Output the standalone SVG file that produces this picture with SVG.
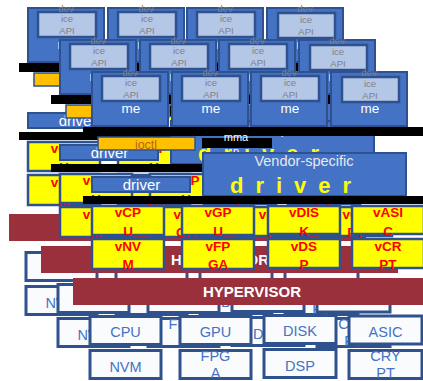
<svg xmlns="http://www.w3.org/2000/svg" xmlns:xlink="http://www.w3.org/1999/xlink" width="423" height="381" viewBox="0 0 423 381">
<style>
text{font-family:"Liberation Sans",Arial,sans-serif;text-anchor:middle}
.dev{fill:#4472C4;stroke:#2F528F;stroke-width:2}
.inner{fill:#B4C7E7;stroke:#2F528F;stroke-width:2.5}
.g{font-size:9.5px;fill:#808080}
.me{font-size:13.5px;fill:#FFFFFF}
.bar{fill:#000000}
.ioc{fill:#FFC000;stroke:#2F528F;stroke-width:1.5}
.ioct{font-size:12.5px;fill:#B8641C}
.blue{fill:#4472C4;stroke:#2F528F;stroke-width:2}
.wt{fill:#FFFFFF}
.yel{fill:#FFFF00;stroke:#2F528F;stroke-width:2.5}
.yt{font-size:13.5px;font-weight:bold;fill:#FF0000}
.hyp{fill:#9B303D}
.hypt{font-size:15px;font-weight:bold;fill:#FFFFFF}
.hw{fill:#FAFBFD;stroke:#2F528F;stroke-width:3}
.hwt{font-size:14.5px;fill:#4472C4}
</style>
<use xlink:href="#layer" href="#layer" transform="translate(-64,-64)"/>
<use xlink:href="#layer" href="#layer" transform="translate(-32,-32)"/>
<g id="layer">
  <g id="dev1"><rect class="dev" x="92" y="72" width="76" height="54"/><rect class="inner" x="102" y="76" width="58" height="25"/><text class="g" x="130" y="75.5">dev</text><text class="g" x="131" y="86">ice</text><text class="g" x="131" y="97.5">API</text><text class="me" x="131" y="112.5">me</text></g>
  <g id="dev2"><rect class="dev" x="172" y="72" width="76" height="54"/><rect class="inner" x="182" y="76" width="58" height="25"/><text class="g" x="210" y="75.5">dev</text><text class="g" x="211" y="86">ice</text><text class="g" x="211" y="97.5">API</text><text class="me" x="211" y="112.5">me</text></g>
  <g id="dev3"><rect class="dev" x="251" y="72" width="76" height="54"/><rect class="inner" x="261" y="76" width="58" height="25"/><text class="g" x="289" y="75.5">dev</text><text class="g" x="290" y="86">ice</text><text class="g" x="290" y="97.5">API</text><text class="me" x="290" y="112.5">me</text></g>
  <g id="dev4"><rect class="dev" x="331" y="72" width="76" height="54"/><rect class="inner" x="342" y="77" width="57" height="25"/><text class="g" x="369" y="75.5">dev</text><text class="g" x="370" y="87">ice</text><text class="g" x="370" y="98.5">API</text><text class="me" x="370" y="112.5">me</text></g>
  <rect id="barA" class="bar" x="83" y="127" width="350" height="9"/>
  <g id="ioctl"><rect class="ioc" x="98" y="137" width="97" height="13"/><text class="ioct" x="146" y="148.5">ioctl</text></g>
  <g id="mmap"><rect class="bar" x="202" y="138" width="70" height="10"/><text class="wt" x="236" y="141" font-size="11">mma</text><text class="wt" x="236" y="155" font-size="11">p</text></g>
  <g id="driver"><rect class="blue" x="92" y="177" width="98" height="15"/><text class="wt" x="141.5" y="190" font-size="15">driver</text></g>
  <g id="vendor"><rect class="blue" x="203" y="153" width="203" height="43"/><text x="304" y="166" font-size="14.5" fill="#E6E9EE">Vendor-specific</text><text x="230" y="193" font-size="22" font-weight="900" fill="#FFFF00" letter-spacing="12" style="text-anchor:start">driver</text></g>
  <rect id="barB" class="bar" x="83" y="196" width="350" height="8"/>
  <g id="vcpu"><rect class="yel" x="92" y="206" width="72" height="29"/><text class="yt" x="128" y="217">vCP</text><text class="yt" x="128" y="235.5">U</text></g>
  <g id="vgpu"><rect class="yel" x="182" y="206" width="72" height="29"/><text class="yt" x="218" y="217">vGP</text><text class="yt" x="218" y="235.5">U</text></g>
  <g id="vdisk"><rect class="yel" x="268" y="206" width="72" height="28"/><text class="yt" x="304" y="217">vDIS</text><text class="yt" x="304" y="235.5">K</text></g>
  <g id="vasic"><rect class="yel" x="352" y="206" width="72" height="28"/><text class="yt" x="388" y="217">vASI</text><text class="yt" x="388" y="235.5">C</text></g>
  <g id="vnvm"><rect class="yel" x="92" y="239" width="72" height="30"/><text class="yt" x="128" y="251">vNV</text><text class="yt" x="128" y="268.5">M</text></g>
  <g id="vfpga"><rect class="yel" x="182" y="239" width="72" height="30"/><text class="yt" x="218" y="251">vFP</text><text class="yt" x="218" y="268.5">GA</text></g>
  <g id="vdsp"><rect class="yel" x="268" y="239" width="72" height="29"/><text class="yt" x="304" y="251">vDS</text><text class="yt" x="304" y="268.5">P</text></g>
  <g id="vcrpt"><rect class="yel" x="352" y="239" width="72" height="29"/><text class="yt" x="388" y="251">vCR</text><text class="yt" x="388" y="268.5">PT</text></g>
  <g id="hypervisor"><rect class="hyp" x="73" y="278" width="357" height="27"/><text class="hypt" x="252" y="297">HYPERVISOR</text></g>
  <g id="cpu"><rect class="hw" x="90" y="316.5" width="71" height="28"/><text class="hwt" x="125.5" y="337">CPU</text></g>
  <g id="gpu"><rect class="hw" x="180" y="316.5" width="71" height="28"/><text class="hwt" x="215.5" y="337">GPU</text></g>
  <g id="disk"><rect class="hw" x="264" y="315.5" width="72" height="28"/><text class="hwt" x="300" y="336">DISK</text></g>
  <g id="asic"><rect class="hw" x="349" y="316" width="73" height="28"/><text class="hwt" x="385.5" y="337">ASIC</text></g>
  <g id="nvm"><rect class="hw" x="90" y="350.5" width="71" height="28"/><text class="hwt" x="125.5" y="371.5">NVM</text></g>
  <g id="fpga"><rect class="hw" x="180" y="350.5" width="71" height="28"/><text class="hwt" x="215.5" y="361">FPG</text><text class="hwt" x="215.5" y="378">A</text></g>
  <g id="dsp"><rect class="hw" x="264" y="349.5" width="72" height="28"/><text class="hwt" x="300" y="370.5">DSP</text></g>
  <g id="crypt"><rect class="hw" x="349" y="350.5" width="73" height="28"/><text class="hwt" x="385.5" y="361">CRY</text><text class="hwt" x="385.5" y="378">PT</text></g>
</g>
<g id="connectors"/>
</svg>
